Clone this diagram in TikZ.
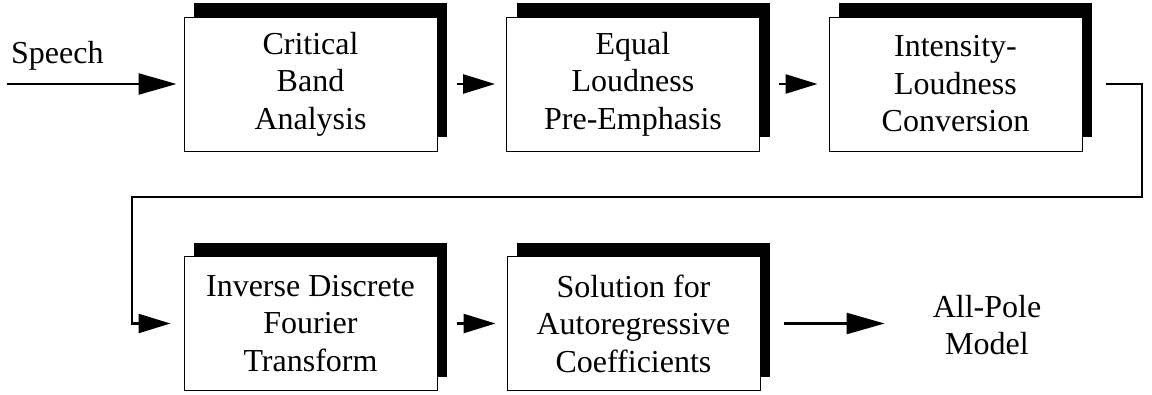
\documentclass[tikz,border=0pt]{standalone}
\usepackage{fontspec}
\setmainfont{Liberation Serif}
\usetikzlibrary{arrows.meta,shadows}
\begin{document}
\begin{tikzpicture}[x=1pt,y=-1pt,
  blk/.style={draw, line width=1pt, fill=white, minimum width=253pt, minimum height=134pt,
    align=center, font=\fontsize{32}{37.5}\selectfont, inner sep=0pt,
    general shadow={fill=black, shadow xshift=10pt, shadow yshift=14pt}},
  conn/.style={line width=2.5pt, -{Triangle[length=32pt,width=19pt]}},
  bigconn/.style={line width=2.5pt, -{Triangle[length=38pt,width=21pt]}},
  lbl/.style={align=center, font=\fontsize{32}{37.5}\selectfont, inner sep=0pt}]
\useasboundingbox (0,0) rectangle (1152,394);
\node[blk] (b1) at (310.5,84) {Critical\\Band\\Analysis};
\node[blk] (b2) at (633,84) {Equal\\Loudness\\Pre-Emphasis};
\node[blk] (b3) at (955.5,84) {Intensity-\\Loudness\\Conversion};
\node[blk] (b4) at (310.5,323.5) {Inverse Discrete\\Fourier\\Transform};
\node[blk] (b5) at (633.5,323.5) {Solution for\\Autoregressive\\Coefficients};
\node[lbl, anchor=base west] (sp) at (11,63) {Speech};
\node[lbl] (out) at (987,325) {All-Pole\\Model};
\coordinate (in) at (7,84);
\coordinate (c1) at (1142,197);
\coordinate (c2) at (132,197);
\draw[bigconn, shorten >=7pt] (in) -- (b1.west);
\draw[conn, shorten <=19pt, shorten >=11pt] (b1.east) -- (b2.west);
\draw[conn, shorten <=19pt, shorten >=11pt] (b2.east) -- (b3.west);
\draw[conn] ([xshift=23pt]b3.east) -| (c1) -- (c2) |- ([xshift=-13pt]b4.west);
\draw[conn, shorten <=19pt, shorten >=11pt] (b4.east) -- (b5.west);
\draw[bigconn, shorten <=23pt, shorten >=48pt] (b5.east) -- (out.west |- b5.east);
\end{tikzpicture}
\end{document}
